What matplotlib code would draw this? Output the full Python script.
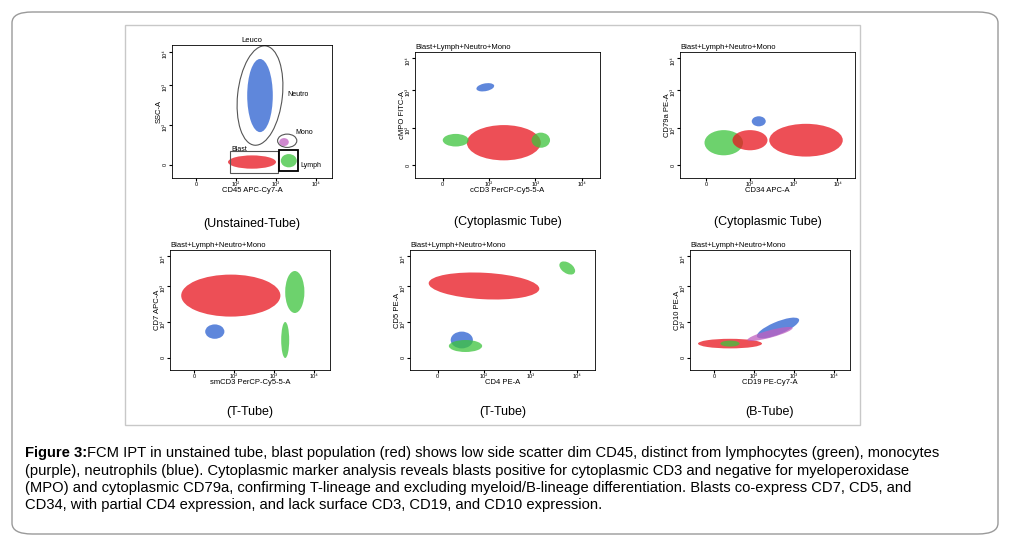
import matplotlib.pyplot as plt
from matplotlib.patches import Ellipse, FancyBboxPatch, Rectangle

plt.rcParams["font.family"] = ["Liberation Sans", "DejaVu Sans"]

W, H = 1012, 544
RED, GREEN, BLUE, PURPLE = "#e8141e", "#3cc43c", "#2a5fd0", "#c060c0"

# panel frames in pixels: left, top, right, bottom
frames = [(172, 45, 332, 178), (415, 52, 600, 178), (680, 52, 855, 178),
          (170, 250, 330, 370), (410, 250, 595, 370), (690, 250, 850, 370)]
titles = ["(Unstained-Tube)", "(Cytoplasmic Tube)", "(Cytoplasmic Tube)",
          "(T-Tube)", "(T-Tube)", "(B-Tube)"]
heads = ["Leuco"] + ["Blast+Lymph+Neutro+Mono"] * 5
xlabels = ["CD45 APC-Cy7-A", "cCD3 PerCP-Cy5-5-A", "CD34 APC-A",
           "smCD3 PerCP-Cy5-5-A", "CD4 PE-A", "CD19 PE-Cy7-A"]
ylabels = ["SSC-A", "cMPO FITC-A", "CD79a PE-A", "CD7 APC-A", "CD5 PE-A", "CD10 PE-A"]

# populations per panel: (x, y, width, height, angle, colour)
pops = [
    [(0.55, 0.62, 0.16, 0.55, 0, BLUE), (0.50, 0.12, 0.30, 0.10, 0, RED),
     (0.73, 0.13, 0.10, 0.10, 0, GREEN), (0.70, 0.27, 0.06, 0.06, 0, PURPLE)],
    [(0.48, 0.28, 0.40, 0.28, 0, RED), (0.68, 0.30, 0.10, 0.12, 0, GREEN),
     (0.38, 0.72, 0.10, 0.06, 20, BLUE), (0.22, 0.30, 0.14, 0.10, 0, GREEN)],
    [(0.72, 0.30, 0.42, 0.26, 0, RED), (0.25, 0.28, 0.22, 0.20, 0, GREEN),
     (0.45, 0.45, 0.08, 0.08, 0, BLUE), (0.40, 0.30, 0.20, 0.16, 0, RED)],
    [(0.38, 0.62, 0.62, 0.35, 0, RED), (0.78, 0.65, 0.12, 0.35, 0, GREEN),
     (0.28, 0.32, 0.12, 0.12, 0, BLUE), (0.72, 0.25, 0.05, 0.30, 0, GREEN)],
    [(0.40, 0.70, 0.60, 0.22, -5, RED), (0.85, 0.85, 0.07, 0.12, 30, GREEN),
     (0.28, 0.25, 0.12, 0.14, 0, BLUE), (0.30, 0.20, 0.18, 0.10, 0, GREEN)],
    [(0.25, 0.22, 0.40, 0.08, 0, RED), (0.25, 0.22, 0.12, 0.05, 0, GREEN),
     (0.55, 0.35, 0.30, 0.10, 30, BLUE), (0.50, 0.30, 0.30, 0.06, 20, PURPLE)],
]

caption_lines = [
    "FCM IPT in unstained tube, blast population (red) shows low side scatter dim CD45, distinct from lymphocytes (green), monocytes",
    "(purple), neutrophils (blue). Cytoplasmic marker analysis reveals blasts positive for cytoplasmic CD3 and negative for myeloperoxidase",
    "(MPO) and cytoplasmic CD79a, confirming T-lineage and excluding myeloid/B-lineage differentiation. Blasts co-express CD7, CD5, and",
    "CD34, with partial CD4 expression, and lack surface CD3, CD19, and CD10 expression.",
]

fig = plt.figure(figsize=(W / 100, H / 100), dpi=100)
fig.patches.append(FancyBboxPatch((12 / W, 10 / H), 986 / W, 522 / H,
                                  boxstyle="round,pad=0,rounding_size=0.02",
                                  transform=fig.transFigure, fill=False,
                                  ec="#9a9a9a", lw=1))
fig.patches.append(Rectangle((125 / W, 1 - 425 / H), 735 / W, 400 / H,
                             transform=fig.transFigure, fill=False, ec="#c8c8c8", lw=1))

for i, (l, t, r, b) in enumerate(frames):
    ax = fig.add_axes([l / W, 1 - b / H, (r - l) / W, (b - t) / H])
    ax.set_xlim(0, 1)
    ax.set_ylim(0, 1)
    for (x, y, w, h, a, c) in pops[i]:
        ax.add_patch(Ellipse((x, y), w, h, angle=a, color=c, alpha=0.75, lw=0))
    ax.set_xticks([0.15, 0.4, 0.65, 0.9])
    ax.set_xticklabels(["0", "10²", "10³", "10⁴"], fontsize=4)
    ax.set_yticks([0.1, 0.4, 0.7, 0.95])
    ax.set_yticklabels(["0", "10²", "10³", "10⁴"], fontsize=4, rotation=90)
    ax.tick_params(length=2, pad=1)
    ax.set_xlabel(xlabels[i], fontsize=5.5, labelpad=0)
    ax.set_ylabel(ylabels[i], fontsize=5.5, labelpad=0)
    ax.set_title(heads[i], fontsize=5.5, pad=2, loc="center" if i == 0 else "left")
    for s in ax.spines.values():
        s.set_linewidth(0.6)
    ax.text(0.5, -0.3, titles[i], transform=ax.transAxes, ha="center", va="top", fontsize=9)
    if i == 0:
        ax.add_patch(Ellipse((0.55, 0.62), 0.28, 0.75, angle=-5, fill=False, ec="#555", lw=0.8))
        ax.add_patch(Ellipse((0.72, 0.28), 0.12, 0.10, fill=False, ec="#555", lw=0.8))
        ax.add_patch(Rectangle((0.36, 0.04), 0.30, 0.16, fill=False, ec="#555", lw=0.8))
        ax.add_patch(Rectangle((0.67, 0.05), 0.12, 0.16, fill=False, ec="k", lw=1.3))
        ax.text(0.72, 0.62, "Neutro", fontsize=5)
        ax.text(0.77, 0.33, "Mono", fontsize=5)
        ax.text(0.37, 0.2, "Blast", fontsize=5)
        ax.text(0.80, 0.08, "Lymph", fontsize=5)

y0 = 1 - 446 / H
for k, ln in enumerate(caption_lines):
    y = y0 - k * 17.5 / H
    if k == 0:
        fig.text(25 / W, y, "Figure 3:", fontsize=10.6, weight="bold", va="top")
        fig.text(87 / W, y, ln, fontsize=10.6, va="top")
    else:
        fig.text(25 / W, y, ln, fontsize=10.6, va="top")

fig.savefig("out.png", dpi=100)
